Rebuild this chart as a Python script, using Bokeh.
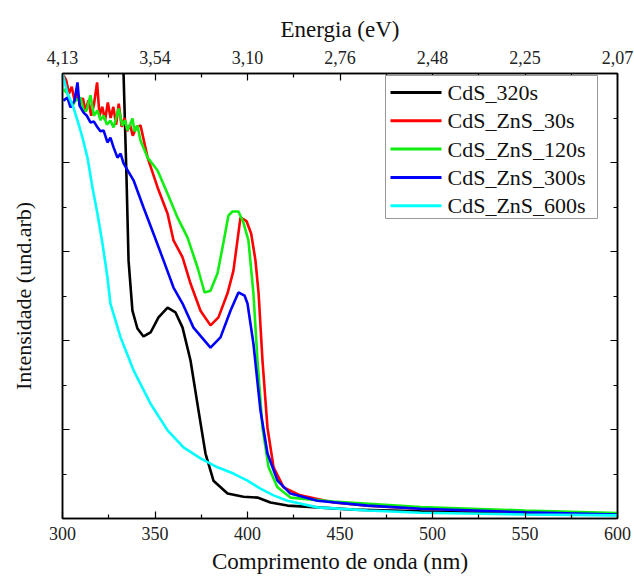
from bokeh.plotting import figure
from bokeh.models import Range1d, LinearAxis, FixedTicker, Label, Arrow, BoxAnnotation
from bokeh.embed import file_html
from bokeh.resources import INLINE

# ---------------- data ----------------
wavelength_ticks = [300, 350, 400, 450, 500, 550, 600]
wavelength_minor = [325, 375, 425, 475, 525, 575]
energy_labels = ["4,13", "3,54", "3,10", "2,76", "2,48", "2,25", "2,07"]
intensity_ticks = [0.0, 0.2, 0.4, 0.6, 0.8, 1.0]
intensity_minor = [0.1, 0.3, 0.5, 0.7, 0.9]

series_names = ["CdS_320s", "CdS_ZnS_30s", "CdS_ZnS_120s", "CdS_ZnS_300s", "CdS_ZnS_600s"]
series_colors = ["#000000", "#FF0000", "#11EE11", "#0000FF", "#00FFFF"]

cds_320s_x = [331.5, 333.0, 334.6, 335.7, 337.8, 340.5, 343.8, 347.6, 351.9, 356.8, 361.1,
              364.9, 369.2, 373.5, 377.3, 381.6, 389.2, 397.8, 405.4, 412.4, 421.6, 437.8,
              457.3, 493.5, 550.0, 600.0]
cds_320s_y = [1.20, 1.00, 0.766, 0.580, 0.467, 0.427, 0.409, 0.418, 0.452, 0.474, 0.463,
              0.429, 0.355, 0.243, 0.146, 0.085, 0.056, 0.049, 0.047, 0.036, 0.029, 0.025,
              0.020, 0.016, 0.011, 0.008]

zns_30s_x = [300.5, 302.0, 303.5, 305.0, 306.5, 308.0, 309.5, 311.0, 312.5, 314.0, 315.5,
             317.0, 318.7, 320.0, 321.5, 323.0, 324.5, 326.0, 327.5, 329.0, 330.4, 332.0,
             333.5, 335.0, 336.5, 338.0, 340.0, 342.2, 346.0, 351.4, 356.8, 360.0, 364.9,
             369.2, 374.6, 380.0, 384.3, 389.2, 392.4, 396.2, 399.5, 402.0, 404.3, 406.0,
             408.1, 410.8, 414.1, 419.5, 428.6, 446.5, 464.9, 493.5, 550.0, 600.0]
zns_30s_y = [0.996, 0.985, 0.955, 0.970, 0.940, 0.955, 0.930, 0.945, 0.915, 0.940, 0.905,
             0.930, 0.980, 0.905, 0.925, 0.895, 0.935, 0.900, 0.925, 0.885, 0.932, 0.880,
             0.900, 0.870, 0.885, 0.860, 0.880, 0.883, 0.811, 0.744, 0.685, 0.625, 0.587,
             0.528, 0.467, 0.434, 0.452, 0.506, 0.557, 0.676, 0.668, 0.640, 0.580, 0.506,
             0.355, 0.204, 0.115, 0.070, 0.052, 0.036, 0.029, 0.022, 0.015, 0.010]

zns_120s_x = [300.5, 302.7, 305.0, 307.0, 309.7, 311.5, 313.0, 315.1, 317.0, 318.9, 320.5,
              322.2, 324.0, 325.9, 327.6, 329.0, 330.3, 332.4, 333.8, 335.1, 336.5, 337.8,
              339.0, 340.5, 342.2, 346.0, 351.4, 356.8, 362.2, 367.6, 373.0, 376.8, 380.0,
              383.8, 386.5, 389.7, 391.9, 395.1, 397.8, 400.5, 403.2, 405.4, 408.1, 411.4,
              416.2, 423.2, 446.5, 493.5, 550.0, 600.0]
zns_120s_y = [0.965, 0.955, 0.925, 0.939, 0.946, 0.915, 0.917, 0.951, 0.905, 0.917, 0.895,
              0.906, 0.885, 0.894, 0.879, 0.900, 0.921, 0.883, 0.895, 0.872, 0.885, 0.899,
              0.870, 0.883, 0.849, 0.811, 0.782, 0.730, 0.676, 0.631, 0.564, 0.508, 0.512,
              0.551, 0.609, 0.681, 0.690, 0.690, 0.665, 0.625, 0.506, 0.355, 0.204, 0.115,
              0.070, 0.047, 0.038, 0.026, 0.018, 0.012]

zns_300s_x = [300.5, 302.7, 304.3, 306.5, 308.1, 309.2, 311.4, 313.2, 315.1, 317.0, 318.9,
              320.5, 322.2, 324.3, 325.9, 327.6, 329.7, 331.4, 333.0, 338.4, 343.8, 349.2,
              354.6, 360.0, 364.9, 370.8, 380.0, 385.4, 390.8, 395.1, 398.4, 400.0, 403.2,
              407.0, 410.8, 416.2, 423.2, 437.8, 464.9, 493.5, 550.0, 600.0]
zns_300s_y = [0.939, 0.946, 0.924, 0.939, 0.980, 0.928, 0.912, 0.905, 0.890, 0.892, 0.879,
              0.870, 0.872, 0.845, 0.856, 0.834, 0.811, 0.820, 0.798, 0.760, 0.699, 0.640,
              0.580, 0.519, 0.483, 0.429, 0.384, 0.407, 0.467, 0.508, 0.501, 0.483, 0.393,
              0.243, 0.146, 0.085, 0.056, 0.040, 0.029, 0.022, 0.014, 0.009]

zns_600s_x = [300.0, 301.6, 302.7, 305.9, 308.6, 310.8, 313.5, 316.2, 318.9, 321.6, 324.3,
              325.9, 331.4, 338.4, 347.6, 356.8, 365.4, 374.6, 383.8, 392.4, 400.0, 407.0,
              414.1, 421.6, 437.8, 464.9, 493.5, 550.0, 600.0]
zns_600s_y = [1.000, 0.973, 0.955, 0.924, 0.888, 0.856, 0.811, 0.744, 0.685, 0.618, 0.542,
              0.483, 0.407, 0.333, 0.258, 0.198, 0.160, 0.135, 0.115, 0.101, 0.085, 0.067,
              0.052, 0.040, 0.025, 0.018, 0.013, 0.009, 0.007]

series_x = [cds_320s_x, zns_30s_x, zns_120s_x, zns_300s_x, zns_600s_x]
series_y = [cds_320s_y, zns_30s_y, zns_120s_y, zns_300s_y, zns_600s_y]

caption_text = "ZnS comparados com os dos PQs"
x_title = "Comprimento de onda (nm)"
x_top_title = "Energia (eV)"
y_title = "Intensidade (und.arb)"

SERIF = "Liberation Serif"

# ---------------- figure ----------------
p = figure(width=634, height=581, output_backend="svg", toolbar_location=None,
           x_range=Range1d(300, 600), y_range=Range1d(0, 1.0),
           min_border_left=62, min_border_right=17, min_border_top=73, min_border_bottom=63)
p.xgrid.visible = False
p.ygrid.visible = False
p.outline_line_color = "#000000"
p.outline_line_width = 1.5

for xs, ys, c in zip(series_x, series_y, series_colors):
    p.line(xs, ys, line_color=c, line_width=2.6)


def style_axis(ax, show_labels=True):
    ax.axis_line_color = "#000000"
    ax.axis_line_width = 1.5
    ax.major_tick_in = 7
    ax.major_tick_out = 0
    ax.minor_tick_in = 4
    ax.minor_tick_out = 0
    ax.major_tick_line_color = "#000000"
    ax.minor_tick_line_color = "#000000"
    ax.major_tick_line_width = 1.2
    ax.minor_tick_line_width = 1.2
    ax.major_label_text_font = SERIF
    ax.major_label_text_color = "#222222"
    ax.axis_label_text_font = SERIF
    ax.axis_label_text_font_style = "normal"
    ax.axis_label_text_color = "#111111"
    if not show_labels:
        ax.major_label_overrides = {t: "" for t in intensity_ticks}
        ax.major_label_standoff = 0


xb = p.xaxis[0]
xb.ticker = FixedTicker(ticks=wavelength_ticks, minor_ticks=wavelength_minor)
style_axis(xb)
xb.major_label_text_font_size = "18px"
xb.major_label_standoff = 8
xb.axis_label = x_title
xb.axis_label_text_font_size = "23px"
xb.axis_label_standoff = 6

yl = p.yaxis[0]
yl.ticker = FixedTicker(ticks=intensity_ticks, minor_ticks=intensity_minor)
style_axis(yl, show_labels=False)
yl.axis_label = y_title
yl.axis_label_text_font_size = "22px"
yl.axis_label_standoff = 27

xt = LinearAxis(ticker=FixedTicker(ticks=wavelength_ticks, minor_ticks=wavelength_minor),
                major_label_overrides={t: lab for t, lab in zip(wavelength_ticks, energy_labels)})
style_axis(xt)
xt.major_label_text_font_size = "18px"
xt.major_label_standoff = 10
xt.axis_label = x_top_title
xt.axis_label_text_font_size = "23px"
xt.axis_label_standoff = 6
p.add_layout(xt, "above")

yr = LinearAxis(ticker=FixedTicker(ticks=intensity_ticks, minor_ticks=intensity_minor))
style_axis(yr, show_labels=False)
p.add_layout(yr, "right")

# ---- legend box drawn with annotations (frame-relative screen units) ----
leg_left, leg_right, leg_top, leg_bottom = 323, 535, 443, 300
row_h = 28.3
first_row = 426
p.add_layout(BoxAnnotation(left=leg_left, right=leg_right, top=leg_top, bottom=leg_bottom,
                           left_units="screen", right_units="screen",
                           top_units="screen", bottom_units="screen",
                           fill_color="#FFFFFF", fill_alpha=1.0,
                           line_color="#999999", line_width=1, line_alpha=1.0))
for i, (name, c) in enumerate(zip(series_names, series_colors)):
    yy = first_row - i * row_h
    p.add_layout(Arrow(end=None, start=None, x_start=leg_left + 5, x_end=leg_left + 56,
                       y_start=yy, y_end=yy, start_units="screen", end_units="screen",
                       line_color=c, line_width=3))
    p.add_layout(Label(x=leg_left + 62, y=yy, x_units="screen", y_units="screen", text=name,
                       text_font=SERIF, text_font_size="22px", text_baseline="middle",
                       text_color="#111111"))

# partially cut caption at top of page
cap = Label(x=-52, y=508, x_units="screen", y_units="screen", text=caption_text,
            text_font=SERIF, text_font_size="23px", text_baseline="bottom",
            text_color="#111111")
p.add_layout(cap)

open("out.html", "w").write(file_html(p, INLINE))
